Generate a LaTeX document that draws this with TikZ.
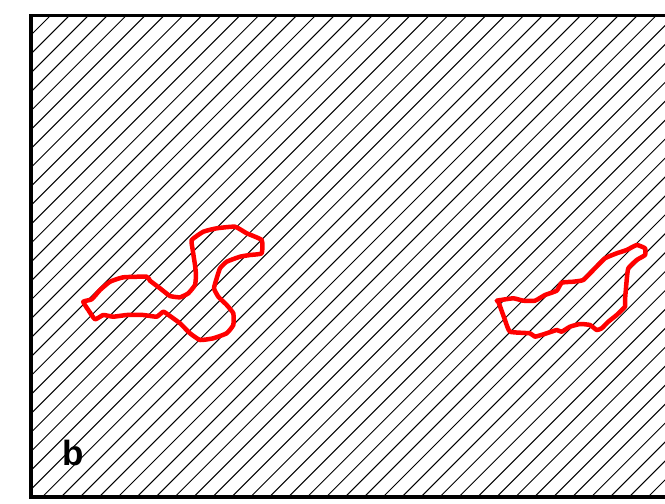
\documentclass[tikz,border=0pt]{standalone}
\usepackage{fontspec}
\setmainfont{Liberation Sans}
\begin{document}
\begin{tikzpicture}[x=1pt,y=-1pt,
  hatch/.style={black,line width=1pt},
  frame/.style={black,line width=3.3pt},
  blob/.style={red,line width=4.5pt,line join=round,line cap=round},
  panel/.style={font=\bfseries\fontsize{35}{35}\selectfont,inner sep=0pt,anchor=base west}]
\clip (0,0) rectangle (665,504);
\begin{scope}
  \clip (31,15.7) rectangle (700,497);
  \foreach \k in {0,...,62}{
    \pgfmathsetmacro{\c}{66+18.93*\k}
    \draw[hatch] (\c-540,540) -- (\c+20,-20);
  }
\end{scope}
\draw[frame] (700,15.7) -- (31,15.7) -- (31,497) -- (700,497);
% left region
\draw[blob] plot[smooth cycle,tension=0.25] coordinates {
 (83.3,301.7) (91.7,299.3) (100,290) (110,281.7) (123.3,277.3) (146.7,276.7)
 (150,280.7) (160,288.3) (170,296) (180,297.3) (188.3,293.3) (195,285)
 (196,275) (195,265) (192.7,250) (191.7,240) (203.3,231.7) (216.7,228.3)
 (235,226.7) (246.7,233.3) (261.7,240) (261.7,253.3) (250,255) (240,256.7)
 (226.7,261.7) (220,268.3) (216.7,278.3) (214,288.3) (218.3,296.7) (226.7,305)
 (233.3,313.3) (233.3,325) (226.7,333.3) (213.3,338.3) (200,340) (190,333.3)
 (180,323.3) (170,316) (163.3,311.7) (156.7,316.7) (143.3,315) (126.7,315)
 (113.3,316.7) (103.3,315) (95,319.3) (88.3,310)};
% right region
\draw[blob] plot[smooth cycle,tension=0.25] coordinates {
 (496.7,300.7) (513.3,298.3) (523.3,300.7) (535,300.7) (545,295) (556.7,290.7)
 (561.7,282.7) (573.3,281.7) (583.3,280) (593.3,270) (605,258.3) (616.7,253.3)
 (626.7,250) (636.7,245) (645,248.3) (645,255) (636.7,260) (628.3,268.3)
 (626.7,280) (625,300) (625,306.7) (616.7,315) (608.3,321.7) (601.7,328.3)
 (596.7,330) (590,325) (580,324) (570,326.7) (561.7,331.7) (556.7,330)
 (546.7,333.3) (535,336.7) (530,333.3) (510,331.7) (505,320) (498.3,301.7)};
\node[panel] (lbl) at (62,465) {b};
\end{tikzpicture}
\end{document}
